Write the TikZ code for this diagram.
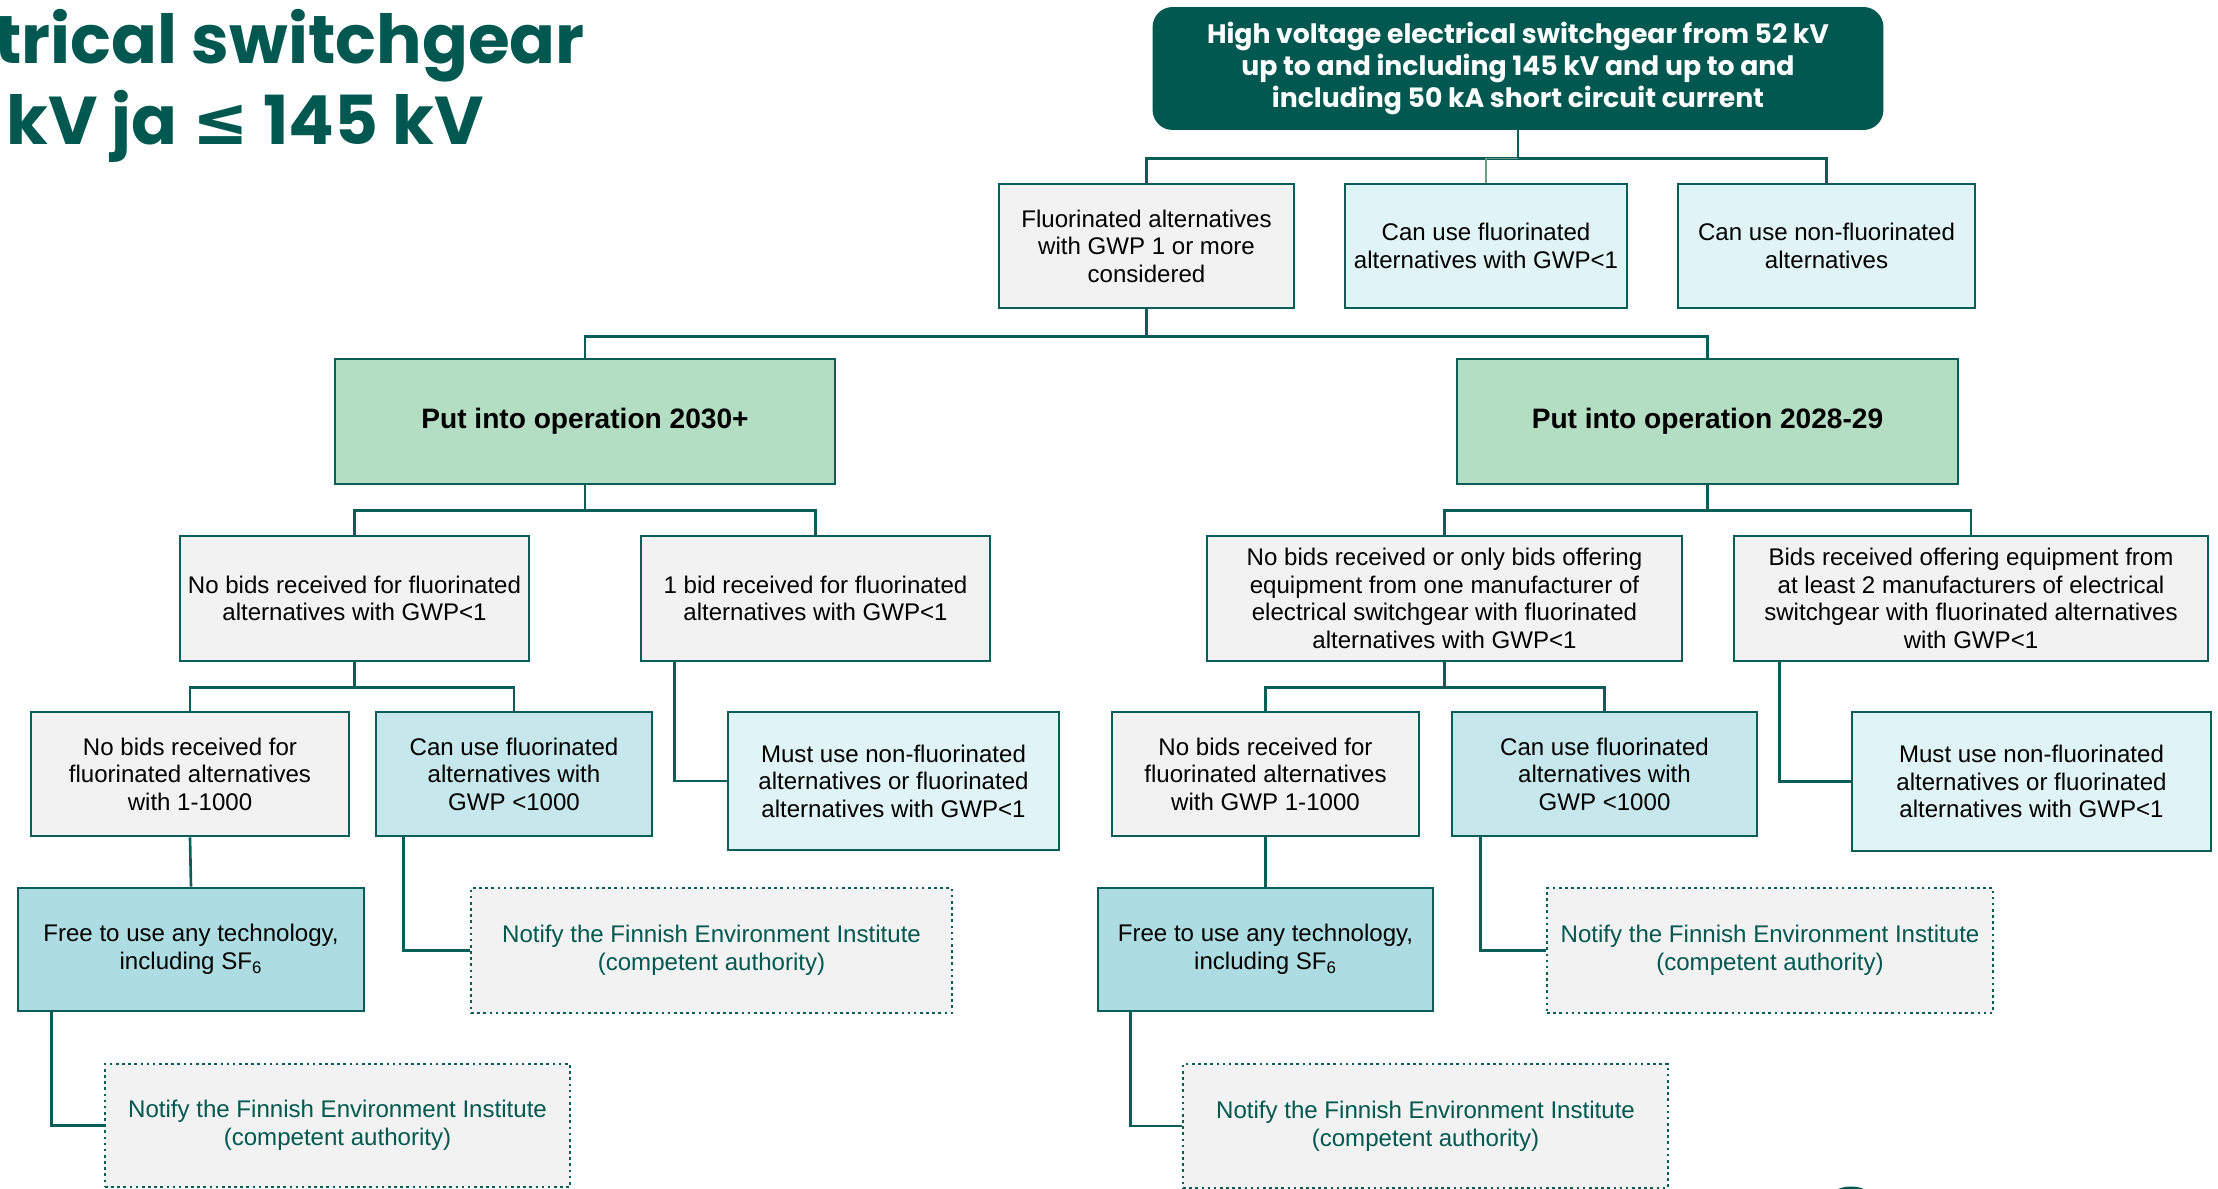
\documentclass[tikz,border=0pt]{standalone}
\usepackage{fontspec}
\setmainfont{Liberation Sans}
\newfontfamily\gothic{Poppins}
\newfontfamily\symfont{DejaVu Sans}
\usepackage{tikz}

\definecolor{darkteal}{HTML}{005850}
\definecolor{linkteal}{HTML}{0B5E57}
\definecolor{lightlink}{HTML}{6C9A86}
\definecolor{boxgrey}{HTML}{F2F2F2}
\definecolor{palecyan}{HTML}{E0F3F5}
\definecolor{midcyan}{HTML}{C6E7EC}
\definecolor{deepcyan}{HTML}{ADDDE2}
\definecolor{opgreen}{HTML}{B4DEC3}

\tikzset{
    box/.style={draw=linkteal, line width=1.5pt, align=center, inner sep=2pt,
        font=\fontsize{13.7}{15.7}\selectfont},
    greybox/.style={box, fill=boxgrey},
    palebox/.style={box, fill=palecyan},
    cyanbox/.style={box, fill=midcyan},
    deepbox/.style={box, fill=deepcyan},
    opbox/.style={box, fill=opgreen, font=\fontsize{16}{19}\selectfont\bfseries},
    notebox/.style={box, dotted, line width=1.3pt, fill=boxgrey, text=darkteal},
    hvbox/.style={fill=darkteal, rounded corners=0.4cm, text=white, align=center,
        font=\gothic\bfseries\fontsize{15.2}{18}\selectfont},
    titletext/.style={inner sep=0pt, text=darkteal,
        font=\gothic\bfseries\fontsize{38.5}{40}\selectfont},
    link/.style={draw=linkteal, line width=1.5pt},
    thinlink/.style={draw=lightlink, line width=0.9pt}
}

\begin{document}
\begin{tikzpicture}[x=0.02cm, y=-0.02cm]

    \useasboundingbox (0,0) rectangle (2218,1189);
    \clip (0,0) rectangle (2218,1189);

    % title
    \node[titletext, anchor=base east] (titlea) at (585,64) {trical switchgear};
    \node[titletext, anchor=base west] (titleb) at (6,145)
        {kV ja {\symfont\bfseries ≤} 145 kV};

    % top level
    \node[hvbox, minimum width=14.62cm, minimum height=2.46cm] (hv) at (1518,68.5)
        {High voltage electrical switchgear from 52 kV\\
         up to and including 145 kV and up to and\\
         including 50 kA short circuit current};

    \node[greybox, minimum width=5.9cm, minimum height=2.48cm] (fluor) at (1146.5,246)
        {Fluorinated alternatives\\with GWP 1 or more\\considered};
    \node[palebox, minimum width=5.64cm, minimum height=2.48cm] (lowgwp) at (1486,246)
        {Can use fluorinated\\alternatives with GWP<1};
    \node[palebox, minimum width=5.94cm, minimum height=2.48cm] (nonfluor) at (1826.5,246)
        {Can use non-fluorinated\\alternatives};

    % operation year
    \node[opbox, minimum width=10cm, minimum height=2.5cm] (op30) at (585,421.5)
        {Put into operation 2030+};
    \node[opbox, minimum width=10.02cm, minimum height=2.5cm] (op28) at (1707.5,421.5)
        {Put into operation 2028-29};

    % 2030+ branch
    \node[greybox, minimum width=6.98cm, minimum height=2.5cm] (nobidsL) at (354.5,598.5)
        {No bids received for fluorinated\\alternatives with GWP<1};
    \node[greybox, minimum width=6.98cm, minimum height=2.5cm] (onebid) at (815.5,598.5)
        {1 bid received for fluorinated\\alternatives with GWP<1};
    \node[greybox, minimum width=6.36cm, minimum height=2.48cm] (nobidsLa) at (190,774)
        {No bids received for\\fluorinated alternatives\\with 1-1000};
    \node[cyanbox, minimum width=5.52cm, minimum height=2.48cm] (canL) at (514,774)
        {Can use fluorinated\\alternatives with\\GWP <1000};
    \node[palebox, minimum width=6.62cm, minimum height=2.76cm] (mustL) at (893.5,781)
        {Must use non-fluorinated\\alternatives or fluorinated\\alternatives with GWP<1};
    \node[deepbox, minimum width=6.92cm, minimum height=2.46cm] (freeL) at (191,949.5)
        {Free to use any technology,\\including SF\textsubscript{6}};
    \node[notebox, minimum width=9.62cm, minimum height=2.5cm] (notifyLa) at (711.5,950.5)
        {Notify the Finnish Environment Institute\\(competent authority)};
    \node[notebox, minimum width=9.3cm, minimum height=2.46cm] (notifyLb) at (337.5,1125.5)
        {Notify the Finnish Environment Institute\\(competent authority)};

    % 2028-29 branch
    \node[greybox, minimum width=9.5cm, minimum height=2.5cm] (nobidsR) at (1444.5,598.5)
        {No bids received or only bids offering\\equipment from one manufacturer of\\
         electrical switchgear with fluorinated\\alternatives with GWP<1};
    \node[greybox, minimum width=9.48cm, minimum height=2.5cm] (bidsR) at (1971,598.5)
        {Bids received offering equipment from\\at least 2 manufacturers of electrical\\
         switchgear with fluorinated alternatives\\with GWP<1};
    \node[greybox, minimum width=6.14cm, minimum height=2.48cm] (nobidsRa) at (1265.5,774)
        {No bids received for\\fluorinated alternatives\\with GWP 1-1000};
    \node[cyanbox, minimum width=6.1cm, minimum height=2.48cm] (canR) at (1604.5,774)
        {Can use fluorinated\\alternatives with\\GWP <1000};
    \node[palebox, minimum width=7.18cm, minimum height=2.78cm] (mustR) at (2031.5,781.5)
        {Must use non-fluorinated\\alternatives or fluorinated\\alternatives with GWP<1};
    \node[deepbox, minimum width=6.7cm, minimum height=2.46cm] (freeR) at (1265.5,949.5)
        {Free to use any technology,\\including SF\textsubscript{6}};
    \node[notebox, minimum width=8.92cm, minimum height=2.5cm] (notifyRa) at (1770,950.5)
        {Notify the Finnish Environment Institute\\(competent authority)};
    \node[notebox, minimum width=9.7cm, minimum height=2.48cm] (notifyRb) at (1425.5,1126)
        {Notify the Finnish Environment Institute\\(competent authority)};

    % connectors
    \draw[link] (hv.south) -- ++(0,28) -| (fluor.north);
    \draw[link] (hv.south) -- ++(0,28) -| (nonfluor.north);
    \draw[thinlink] (hv.south) ++(0,28) -| (lowgwp.north);

    \draw[link] (fluor.south) -- ++(0,27) -| (op30.north);
    \draw[link] (fluor.south) -- ++(0,27) -| (op28.north);

    \draw[link] (op30.south) -- ++(0,25) -| (nobidsL.north);
    \draw[link] (op30.south) -- ++(0,25) -| (onebid.north);
    \draw[link] (op28.south) -- ++(0,25) -| (nobidsR.north);
    \draw[link] (op28.south) -- ++(0,25) -| (bidsR.north);

    \draw[link] (nobidsL.south) -- ++(0,25) -| (nobidsLa.north);
    \draw[link] (nobidsL.south) -- ++(0,25) -| (canL.north);
    \draw[link] (nobidsR.south) -- ++(0,25) -| (nobidsRa.north);
    \draw[link] (nobidsR.south) -- ++(0,25) -| (canR.north);

    \draw[link] (nobidsLa.south) -- (freeL.north);
    \draw[link] (nobidsRa.south) -- (freeR.north);

    \draw[link] ([xshift=0.7cm]onebid.south west) |- (mustL.west);
    \draw[link] ([xshift=0.58cm]canL.south west) |- (notifyLa.west);
    \draw[link] ([xshift=0.7cm]freeL.south west) |- (notifyLb.west);
    \draw[link] ([xshift=0.94cm]bidsR.south west) |- (mustR.west);
    \draw[link] ([xshift=0.6cm]canR.south west) |- (notifyRa.west);
    \draw[link] ([xshift=0.68cm]freeR.south west) |- (notifyRb.west);

    % logo edge at bottom
    \fill[darkteal] (1851,1221.5) circle (0.7cm);

\end{tikzpicture}
\end{document}
